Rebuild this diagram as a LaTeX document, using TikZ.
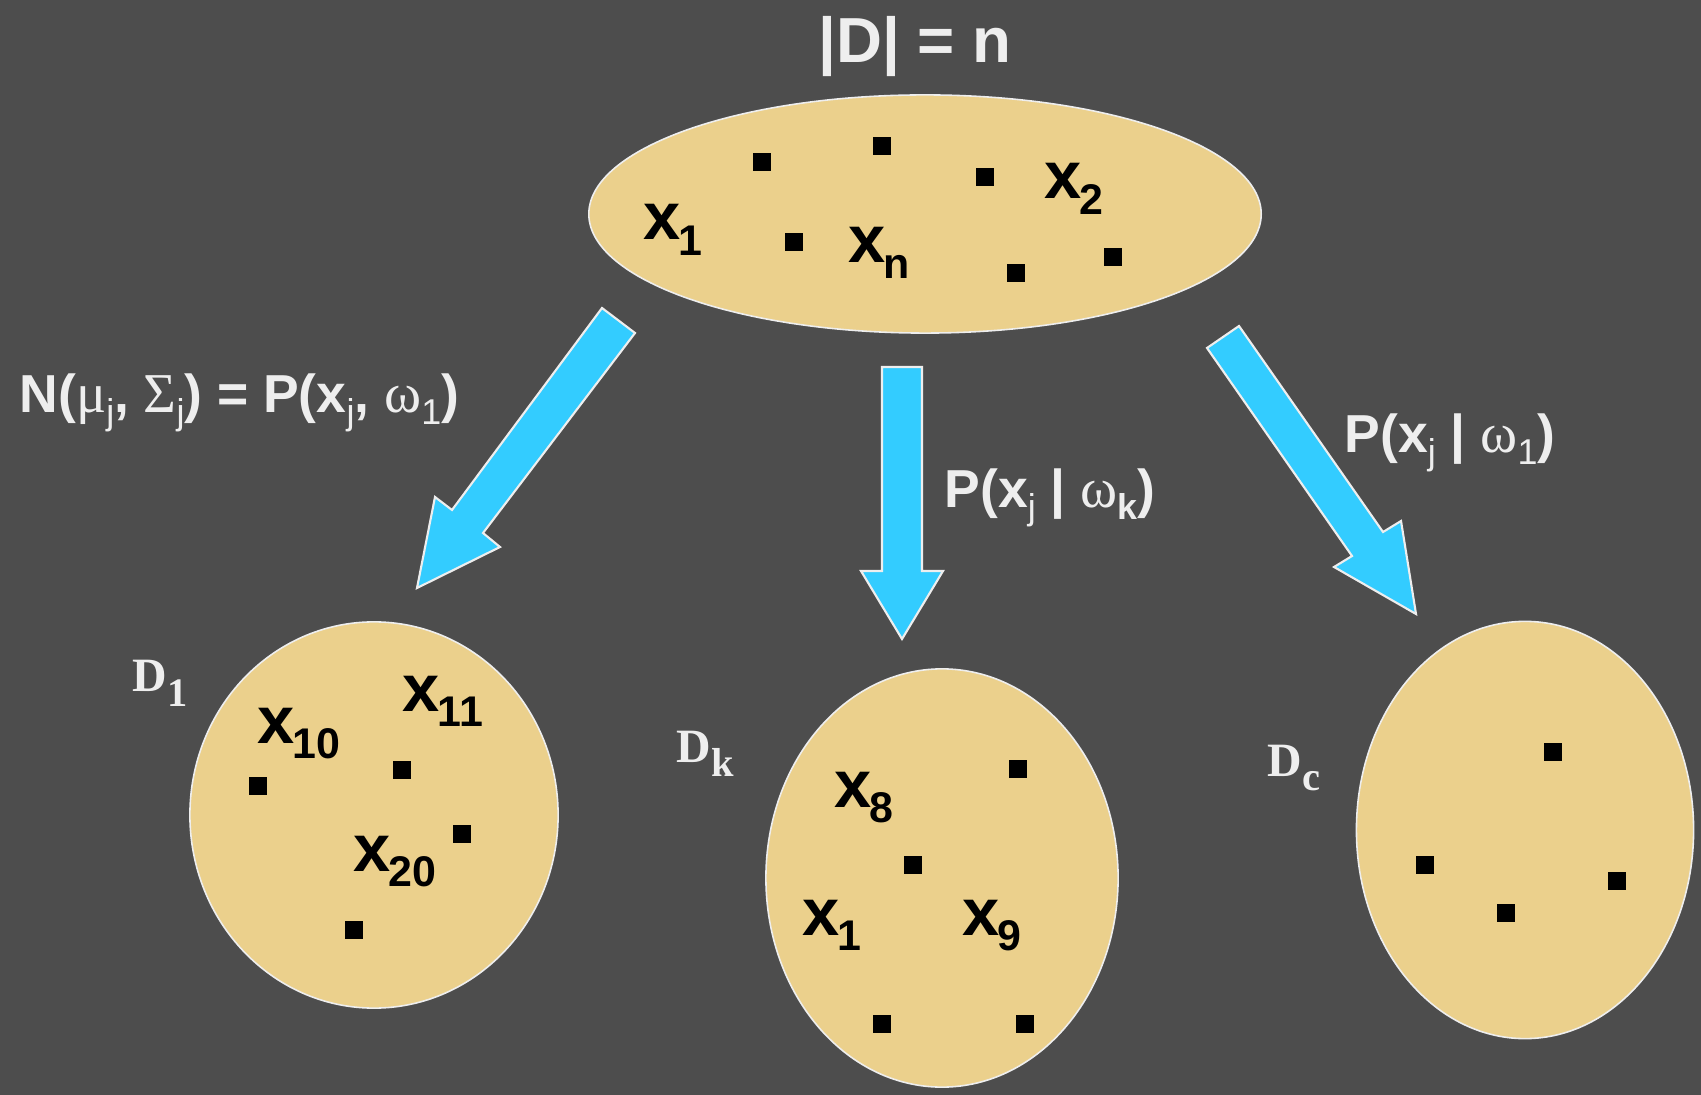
\documentclass[tikz,border=0pt]{standalone}
\usepackage{fontspec}
\setmainfont{Liberation Sans}
\newfontfamily\serifD{Liberation Serif}
\newfontfamily\grk{Liberation Serif}
\usetikzlibrary{shapes.geometric}
\definecolor{bg}{HTML}{4D4D4D}
\definecolor{sand}{HTML}{EBD08C}
\definecolor{sky}{HTML}{33CCFF}
\definecolor{lite}{HTML}{EEEEEE}
\newcommand\xf{\fontsize{19}{19}\selectfont\bfseries}
\newcommand\xs[1]{\kern-0.6pt\raisebox{-4.3pt}{\fontsize{12.2}{12.2}\selectfont\bfseries #1}}
\newcommand\lf{\fontsize{15.2}{15.2}\selectfont\bfseries}
\newcommand\ls[1]{\raisebox{-3.4pt}{\fontsize{10.2}{10.2}\selectfont\mdseries #1}}
\newcommand\gk[1]{{\grk\mdseries\fontsize{16}{16}\selectfont #1}}
\newcommand\df{\serifD\bfseries\fontsize{13.6}{13.6}\selectfont}
\newcommand\ds[1]{\raisebox{-4.2pt}{\fontsize{11.5}{11.5}\selectfont #1}}
\tikzset{
  blob/.style={ellipse, fill=sand, draw=lite, line width=0.45pt, inner sep=0pt},
  dot/.style={rectangle, fill=black, minimum size=0.18cm, inner sep=0pt},
  xlab/.style={anchor=base west, inner sep=0pt, text=black},
  wlab/.style={anchor=base west, inner sep=0pt, text=lite},
  blockarrow/.style={fill=sky, draw=lite, line width=0.6pt, line join=miter}
}
\begin{document}
\begin{tikzpicture}[x=0.01cm,y=-0.01cm]
\fill[bg] (0,0) rectangle (1701,1095);
\useasboundingbox (0,0) rectangle (1701,1095);

% title
\node[wlab] (title) at (818,63) {\fontsize{18.1}{18.1}\selectfont\bfseries |D| = n};

% ellipses
\node[blob, minimum width=6.72cm, minimum height=2.38cm] (top) at (925,214) {};
\node[blob, minimum width=3.68cm, minimum height=3.86cm] (d1) at (374,815) {};
\node[blob, minimum width=3.52cm, minimum height=4.18cm] (dk) at (942,878) {};
\node[blob, minimum width=3.37cm, minimum height=4.17cm] (dc) at (1525,830) {};

% dots top
\node[dot] (t1) at (762,162) {};
\node[dot] (t2) at (882,146) {};
\node[dot] (t3) at (985,177) {};
\node[dot] (t4) at (794,242) {};
\node[dot] (t5) at (1016,273) {};
\node[dot] (t6) at (1113,257) {};
% dots D1
\node[dot] (a1) at (258,786) {};
\node[dot] (a2) at (402,770) {};
\node[dot] (a3) at (462,834) {};
\node[dot] (a4) at (354,930) {};
% dots Dk
\node[dot] (b1) at (1018,769) {};
\node[dot] (b2) at (913,865) {};
\node[dot] (b3) at (882,1024) {};
\node[dot] (b4) at (1025,1024) {};
% dots Dc
\node[dot] (c1) at (1553,752) {};
\node[dot] (c2) at (1425,865) {};
\node[dot] (c3) at (1506,913) {};
\node[dot] (c4) at (1617,881) {};

% x labels top
\node[xlab] (lx1) at (643,240) {\xf x\xs{1}};
\node[xlab] (lxn) at (848,263) {\xf x\xs{n}};
\node[xlab] (lx2) at (1044,199) {\xf x\xs{2}};
% x labels D1
\node[xlab] (lx10) at (257,743) {\xf x\xs{10}};
\node[xlab] (lx11) at (402,711) {\xf x\xs{11}};
\node[xlab] (lx20) at (353,871) {\xf x\xs{20}};
% x labels Dk
\node[xlab] (lx8) at (834,807) {\xf x\xs{8}};
\node[xlab] (lx1b) at (802,935) {\xf x\xs{1}};
\node[xlab] (lx9) at (962,935) {\xf x\xs{9}};

% D labels
\node[wlab] (L1) at (132,692) {\df D\ds{1}};
\node[wlab] (Lk) at (676,762) {\df D\ds{k}};
\node[wlab] (Lc) at (1267,776) {\df D\ds{c}};

% arrow labels
\node[wlab] (lab1) at (19,413) {\lf N(\gk{μ}\ls{j}, \gk{Σ}\ls{j}) = P(x\ls{j}, \gk{ω}\ls{1})};
\node[wlab] (labk) at (944,508) {\lf P(x\ls{j} | \gk{ω}\ls{\bfseries k})};
\node[wlab] (labc) at (1344,453) {\lf P(x\ls{j} | \gk{ω}\ls{1})};

% block arrows
\draw[blockarrow] (602,308) -- (452,510) -- (435,497) -- (417,588) -- (500,547) -- (483,533) -- (635,333) -- cycle;
\draw[blockarrow] (882,367) -- (882,571) -- (861,571) -- (902,639) -- (943,571) -- (922,571) -- (922,367) -- cycle;
\draw[blockarrow] (1207,348) -- (1239,326) -- (1383,532) -- (1401,521) -- (1416,614) -- (1334,567) -- (1352,556) -- cycle;
\end{tikzpicture}
\end{document}
